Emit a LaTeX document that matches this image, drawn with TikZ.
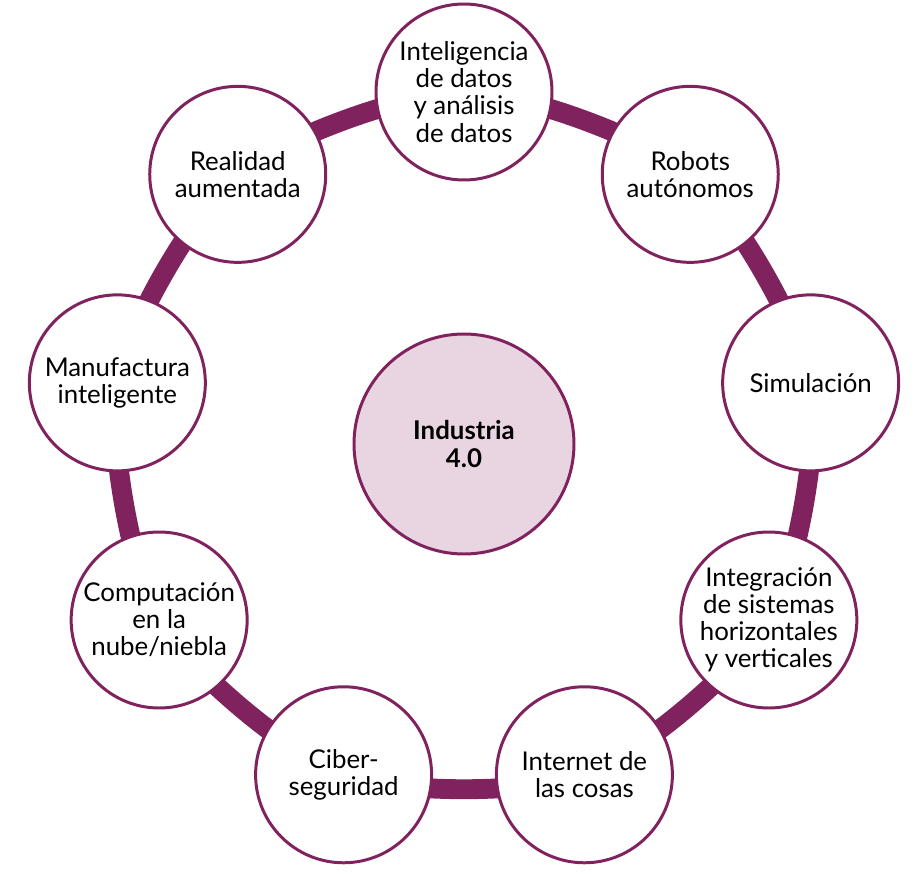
\documentclass[tikz,border=0pt]{standalone}
\usepackage{fontspec}
\setmainfont{Lato}
\usetikzlibrary{backgrounds}
\definecolor{ringpurple}{RGB}{128,34,94}
\definecolor{hubpink}{RGB}{232,213,225}

\begin{document}
\begin{tikzpicture}[x=1cm,y=1cm,font=\fontsize{14.7}{15.4}\selectfont,
    topic/.style={circle,draw=ringpurple,line width=1.7pt,fill=white,
      minimum size=3.52cm,inner sep=0pt,align=center},
    hub/.style={topic,fill=hubpink,minimum size=4.4cm,font=\fontsize{14.7}{15.4}\selectfont\bfseries},
    ring/.style={draw=ringpurple,line width=11.3pt}]
  \useasboundingbox (-9.28,-8.58) rectangle (9.02,8.88);
  \node[hub] (industria) at (0,0) {Industria\\4.0};
  \node[topic] (datos) at (90:7.04) {Inteligencia\\de datos\\y análisis\\de datos};
  \node[topic] (robots) at (50:7.04) {Robots\\autónomos};
  \node[topic] (simul) at (10:7.04) {Simulación};
  \node[topic] (integ) at (-30:7.04) {Integración\\de sistemas\\horizontales\\y verticales};
  \node[topic] (iot) at (-70:7.04) {Internet de\\las cosas};
  \node[topic] (ciber) at (-110:7.04) {Ciber-\\seguridad};
  \node[topic] (nube) at (-150:7.04) {Computación\\en la\\nube/niebla};
  \node[topic] (manuf) at (170:7.04) {Manufactura\\inteligente};
  \node[topic] (realidad) at (130:7.04) {Realidad\\aumentada};
  \begin{pgfonlayer}{background}
    \foreach \a/\b in {datos/robots,robots/simul,simul/integ,integ/iot,iot/ciber,
                       ciber/nube,nube/manuf,manuf/realidad,realidad/datos}
      {\draw[ring] (\a.center) to[bend left=20,looseness=0.6] (\b.center);}
  \end{pgfonlayer}
\end{tikzpicture}
\end{document}
